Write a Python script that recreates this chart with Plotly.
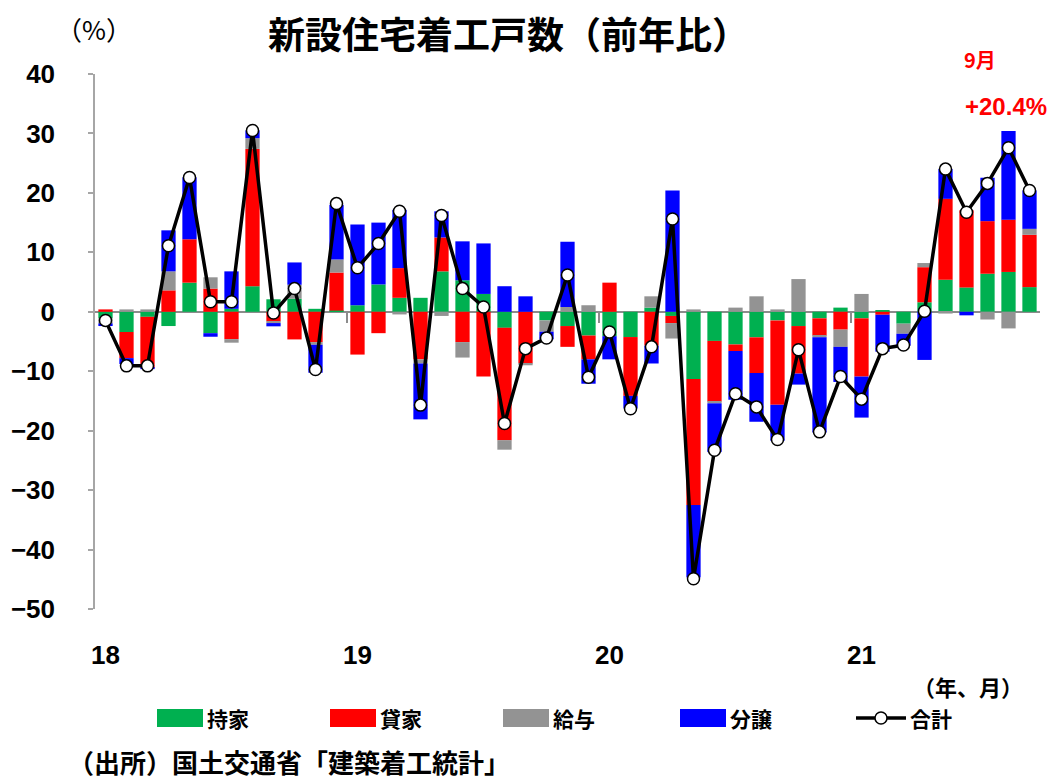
import plotly.graph_objects as go

# 2018年1月〜2021年9月（月次）
months = [f"{y}/{m}" for y in (18, 19, 20, 21) for m in range(1, 13)][:45]
year_ticks = ["18", "19", "20", "21"]

# 利用関係別の寄与度（%）
own = [-1.1, -3.4, -0.85, -2.4, 4.9, -3.6, 0.5, 4.3, 2.1, 2.2, 0.5, 0.2,
       1.1, 4.6, 2.35, 2.35, 6.8, 5.3, 3.0, -2.7, 0.0, -1.45, -2.4, -4.0,
       -4.1, -4.25, 0.7, -0.7, -11.3, -4.9, -5.5, -4.3, -1.45, -2.4, -1.1, 0.7,
       -1.1, 0.2, -2.0, 1.6, 5.4, 4.1, 6.4, 6.7, 4.15]
rent = [0.4, -4.4, -8.6, 3.6, 7.3, 3.9, -4.6, 23.1, -1.6, -4.65, -5.1, 6.4,
        -7.2, -3.6, 5.0, -8.0, 5.7, -5.1, -10.9, -18.9, -8.7, 0.0, -3.5, -4.0,
        4.9, -9.9, -5.7, -1.2, -21.2, -10.2, -1.1, -6.0, -14.2, -8.0, -2.9, -3.0,
        -9.8, -0.5, 0.0, 5.9, 13.6, 13.0, 8.85, 8.8, 8.8]
issued = [-0.85, 0.4, 0.4, 3.2, 0.0, 1.9, -0.6, 1.8, -0.3, 2.35, -0.45, 2.2,
          0.0, 0.0, -0.45, -0.7, -0.7, -2.6, 0.0, -1.6, -0.3, -1.9, 0.8, 1.1,
          0.0, 0.0, 1.9, -2.6, 0.4, -0.3, 0.7, 2.6, 0.4, 5.5, -0.3, -2.9,
          3.0, 0.0, -1.7, 0.7, -0.3, 0.0, -1.3, -2.8, 1.0]
sale = [-0.45, -1.0, -0.2, 6.9, 10.4, -0.6, 6.3, 1.3, -0.55, 3.75, -4.7, 9.2,
        13.6, 10.4, 9.8, -9.4, 4.4, 6.55, 8.5, 4.3, 2.6, -1.3, 11.0, -4.1,
        -3.9, -2.1, -3.0, 20.4, -12.2, -8.2, -8.2, -8.2, -6.05, -1.85, -16.0, -5.9,
        -6.9, -6.2, -2.0, -8.1, 5.0, -0.6, 7.3, 14.9, 6.45]
total = [-1.45, -9.1, -9.1, 11.1, 22.6, 1.7, 1.7, 30.5, -0.2, 3.9, -9.7, 18.2,
         7.4, 11.5, 16.9, -15.7, 16.2, 3.9, 0.8, -18.8, -6.2, -4.4, 6.2, -11.0,
         -3.4, -16.3, -5.9, 15.6, -44.9, -23.3, -13.8, -16.0, -21.5, -6.4, -20.2, -10.9,
         -14.7, -6.2, -5.6, 0.1, 24.0, 16.75, 21.6, 27.6, 20.4]

series = [("持家", own, "#00b050"), ("貸家", rent, "#ff0000"),
          ("給与", issued, "#939393"), ("分譲", sale, "#0000ff")]

x_idx = list(range(len(months)))
year_pos = [months.index(f"{y}/1") for y in year_ticks]
boundary_pos = [p - 0.5 for p in year_pos[1:]]

NUM = "Liberation Sans, Arial, sans-serif"
JP = "Noto Sans CJK JP, sans-serif"

fig = go.Figure()
for name, vals, color in series:
    fig.add_trace(go.Bar(x=x_idx, y=vals, name=name, marker_color=color,
                         marker_line_width=0, xaxis="x", yaxis="y"))

fig.add_trace(go.Scatter(
    x=x_idx, y=total, name="合計", mode="lines+markers",
    line=dict(color="black", width=3.5),
    marker=dict(size=12, color="white", line=dict(color="black", width=1.5)),
    xaxis="x2", yaxis="y"))

# layout geometry (pixels)
W, H = 1056, 779
L, R, T, B = 95, 16, 74, 170
pw, ph = W - L - R, H - T - B


def px(xp):
    return (xp - L) / pw


def py(yp):
    return (H - B - yp) / ph


def label(text, x, y, size, family=JP, color="black", xanchor="center"):
    return dict(text=text, x=px(x), y=py(y), xref="paper", yref="paper",
                xanchor=xanchor, yanchor="middle", showarrow=False,
                font=dict(family=family, size=size, color=color))


ymin, ymax = -50, 40
xr = [-0.5, len(months) - 0.5]

fig.update_layout(
    width=W, height=H,
    margin=dict(l=L, r=R, t=T, b=B, pad=0),
    paper_bgcolor="white", plot_bgcolor="white",
    barmode="relative", bargap=0.32,
    showlegend=False,
    font=dict(family=JP, color="black"),
    xaxis=dict(range=xr, tickvals=year_pos, ticktext=year_ticks,
               showline=False, ticks="", showgrid=False, zeroline=False,
               tickfont=dict(family=NUM, size=26, color="black", weight="bold"),
               ticklabelstandoff=28),
    xaxis2=dict(range=xr, overlaying="x", anchor="free",
                position=(0 - ymin) / (ymax - ymin),
                tickvals=boundary_pos, showticklabels=False,
                ticks="outside", ticklen=10, tickwidth=1.5, tickcolor="#8c8c8c",
                showline=False, showgrid=False, zeroline=False),
    yaxis=dict(range=[ymin, ymax], dtick=10, tick0=0,
               showline=True, linecolor="#a6a6a6", linewidth=1.5,
               ticks="outside", ticklen=5, tickcolor="#a6a6a6", tickwidth=1.5,
               showgrid=False, zeroline=True, zerolinecolor="#8c8c8c",
               zerolinewidth=1.5,
               tickfont=dict(family=NUM, size=26, color="black", weight="bold"),
               ticklabelstandoff=28),
)

ann = [
    label("（%）", 94, 28, 26),
    label("<b>新設住宅着工戸数（前年比）</b>", 508, 33, 37),
    label("<b>9月</b>", 980, 60, 20, color="#ff0000"),
    label(f"<b>+{total[-1]:.1f}%</b>", 1006, 106, 24, family=NUM, color="#ff0000"),
    label("<b>（年、月）</b>", 968, 686, 22),
    label("<b>（出所）国土交通省「建築着工統計」</b>", 66, 761, 26, xanchor="left"),
]

# legend drawn as shapes + labels
shapes = []
leg_y = 718
leg_x = [157, 330, 503, 680]
for (name, _, color), x0 in zip(series, leg_x):
    shapes.append(dict(type="rect", xref="paper", yref="paper",
                       x0=px(x0), x1=px(x0 + 46), y0=py(leg_y + 9), y1=py(leg_y - 9),
                       fillcolor=color, line=dict(width=0)))
    ann.append(label(f"<b>{name}</b>", x0 + 48, leg_y, 21, xanchor="left"))
lx0 = 856
shapes.append(dict(type="line", xref="paper", yref="paper",
                   x0=px(lx0), x1=px(lx0 + 50), y0=py(leg_y), y1=py(leg_y),
                   line=dict(color="black", width=3.5)))
shapes.append(dict(type="circle", xref="paper", yref="paper",
                   x0=px(lx0 + 19), x1=px(lx0 + 31), y0=py(leg_y + 6), y1=py(leg_y - 6),
                   fillcolor="white", line=dict(color="black", width=1.5)))
ann.append(label("<b>合計</b>", lx0 + 52, leg_y, 21, xanchor="left"))

fig.update_layout(annotations=ann, shapes=shapes)
fig.write_html("out.html")
